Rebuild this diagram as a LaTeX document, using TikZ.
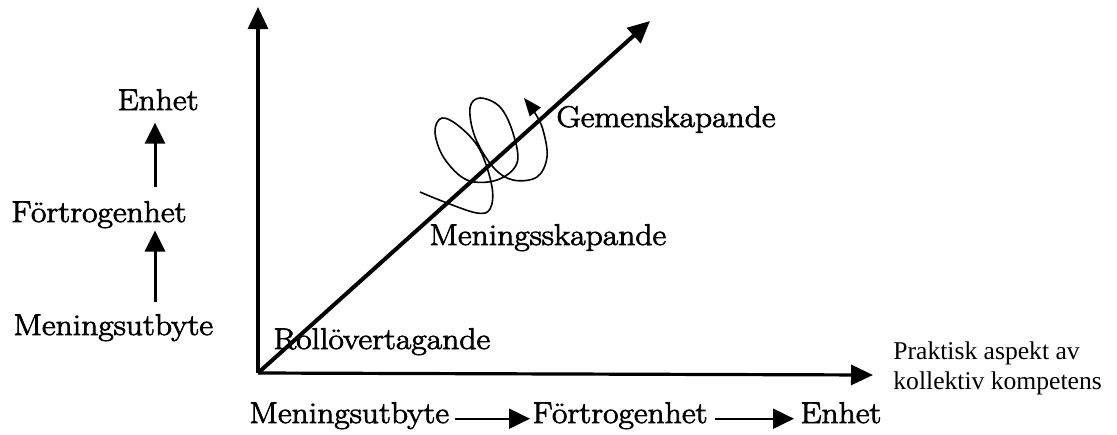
\documentclass[tikz,border=0pt]{standalone}
\usepackage{fontspec}
\setmainfont{Latin Modern Roman}[FakeStretch=1.12,FakeBold=2.5]
\newfontfamily\timesfont{Liberation Serif}
\usetikzlibrary{arrows.meta}

\begin{document}
\begin{tikzpicture}[x=0.5pt,y=-0.5pt,
  every node/.style={font=\fontsize{15}{18}\selectfont},
  lbl/.style={inner sep=1pt},
  axis/.style={line width=1.6pt,-{Triangle[length=11pt,width=10pt]}},
  arrow/.style={line width=1.5pt,-{Triangle[length=10.5pt,width=10pt]}},
  small arrow/.style={line width=1pt,-{Triangle[length=10.5pt,width=10pt]}},
  spiral/.style={line width=0.8pt,-{Triangle[length=9pt,width=7pt]}}
]
  \useasboundingbox (0,0) rectangle (1117,434);

  % axes
  \coordinate (O) at (258,373);
  \coordinate (ytop) at (258,7);
  \coordinate (xend) at (873,375);
  \coordinate (dend) at (650,21);
  \draw[axis] (O) -- (ytop);
  \draw[axis] (O) -- (xend);
  \draw[axis,line width=2pt] (O) -- (dend);

  % labels along the diagonal
  \node[lbl,anchor=base west] (roll) at (271,349) {Rollövertagande};
  \node[lbl,anchor=base west] (mening) at (427,245) {Meningsskapande};
  \node[lbl,anchor=base west] (gemen) at (554,127) {Gemenskapande};

  % spiral
  \draw[spiral] plot[smooth,tension=0.6] coordinates {
    (420,192) (447,203) (477,213) (490,209) (492,187) (480,150) (460,127)
    (442,118) (435,132) (444,158) (467,180) (497,180) (517,163) (513,133)
    (500,107) (480,98) (470,108) (475,137) (493,167) (513,180) (537,177)
    (547,157) (543,130) (535,113) (524,98)};

  % left column
  \node[lbl,anchor=base] (enh) at (158,110) {Enhet};
  \node[lbl,anchor=base west] (fort) at (9,222) {Förtrogenhet};
  \node[lbl,anchor=base west] (menu) at (11,335) {Meningsutbyte};
  \draw[arrow,shorten <=5pt] (menu.north -| 155,0) -- (fort.south -| 155,0);
  \draw[arrow,shorten <=6pt,shorten >=5pt] (fort.north -| 155,0) -- (enh.south -| 155,0);

  % bottom row
  \node[lbl,anchor=base west] (b1) at (247,423) {Meningsutbyte};
  \node[lbl,anchor=base west] (b2) at (530,423) {Förtrogenhet};
  \node[lbl,anchor=base west] (b3) at (798,423) {Enhet};
  \draw[small arrow,shorten <=2pt] (b1.mid east) -- (b2.mid west);
  \draw[small arrow,shorten <=2.5pt,shorten >=2pt] (b2.mid east) -- (b3.mid west);

  \node[lbl,anchor=west,align=left,font=\timesfont\fontsize{12.8}{15}\selectfont]
    (prakt) at (891,368) {Praktisk aspekt av\\kollektiv kompetens};
\end{tikzpicture}
\end{document}
